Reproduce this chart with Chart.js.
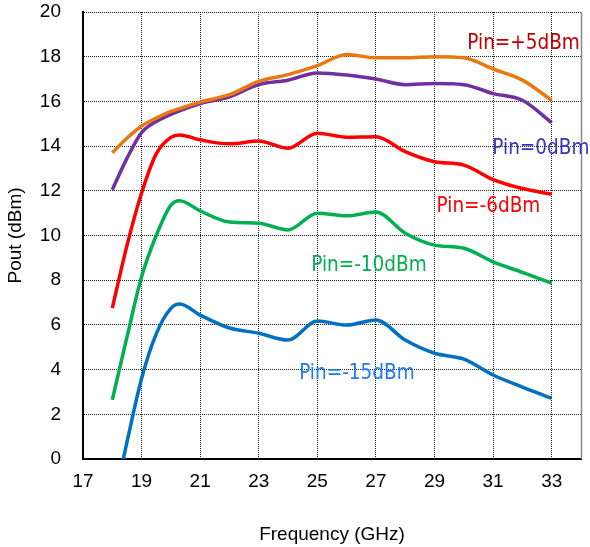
<!DOCTYPE html>
<html>
<head>
<meta charset="utf-8">
<script src="https://cdn.jsdelivr.net/npm/chart.js@4.4.1/dist/chart.umd.min.js"></script>
<style>
html,body{margin:0;padding:0;background:#fff;}
#wrap{width:590px;height:547px;}
</style>
</head>
<body>
<div id="wrap"><canvas id="c" width="590" height="547"></canvas></div>
<script>
// ---- data ----
const freq     = [18, 18.5, 19, 19.5, 20, 20.3, 21, 22, 23, 24, 25, 26, 27, 28, 29, 30, 31, 32, 33];
const pinP5    = [13.7, 14.35, 14.9, 15.25, 15.55, 15.68, 15.97, 16.3, 16.9, 17.2, 17.6, 18.1, 17.95, 17.95, 18.0, 17.95, 17.45, 16.95, 16.05];
const pin0     = [12.05, 13.45, 14.6, 15.1, 15.42, 15.58, 15.9, 16.2, 16.75, 16.95, 17.27, 17.18, 17.0, 16.75, 16.8, 16.75, 16.35, 16.05, 15.05];
const pinM6    = [6.75, 9.55, 11.9, 13.65, 14.39, 14.5, 14.28, 14.1, 14.23, 13.9, 14.58, 14.4, 14.42, 13.75, 13.3, 13.15, 12.5, 12.1, 11.85];
const pinM10   = [2.65, 5.45, 8.15, 10.0, 11.36, 11.56, 11.1, 10.6, 10.55, 10.25, 11.0, 10.88, 11.05, 10.1, 9.57, 9.43, 8.82, 8.35, 7.87];
const pinM15   = [-2.3, 0.75, 3.6, 5.6, 6.74, 6.93, 6.44, 5.86, 5.63, 5.32, 6.17, 5.99, 6.22, 5.32, 4.73, 4.47, 3.76, 3.22, 2.72];
const xTicks   = [17, 19, 21, 23, 25, 27, 29, 31, 33];
const yTicks   = [0, 2, 4, 6, 8, 10, 12, 14, 16, 18, 20];
const seriesNames = ['Pin=+5dBm', 'Pin=0dBm', 'Pin=-6dBm', 'Pin=-10dBm', 'Pin=-15dBm'];
const labelFreq = [32.04, 32.63, 30.84, 26.76, 26.35];
const labelPout = [18.6, 13.9, 11.3, 8.66, 3.8];

// ---- styles ----
const lineColors  = ['#E8780F', '#7030A0', '#FF0000', '#00B050', '#0070C0'];
const labelColors = ['#C00000', '#3535C0', '#FF0000', '#00B050', '#1E7BF5'];
const allSeries = [pinP5, pin0, pinM6, pinM10, pinM15];

const datasets = allSeries.map((vals, i) => ({
  label: seriesNames[i],
  data: freq.map((f, k) => ({x: f, y: vals[k]})),
  borderColor: lineColors[i],
  backgroundColor: lineColors[i],
  borderWidth: 3.5,
  pointRadius: 0,
  cubicInterpolationMode: 'monotone',
  fill: false
}));

const annotate = {
  id: 'annotate',
  afterDatasetsDraw(chart) {
    const {ctx, chartArea, scales} = chart;
    ctx.save();
    ctx.strokeStyle = '#8a8a8a';
    ctx.lineWidth = 1.5;
    ctx.beginPath();
    ctx.moveTo(chartArea.right + 0.5, chartArea.top);
    ctx.lineTo(chartArea.right + 0.5, chartArea.bottom);
    ctx.stroke();
    ctx.font = '20.5px "DejaVu Sans Condensed", "DejaVu Sans", sans-serif';
    ctx.textAlign = 'center';
    ctx.textBaseline = 'middle';
    seriesNames.forEach((name, i) => {
      ctx.fillStyle = labelColors[i];
      ctx.fillText(name, scales.x.getPixelForValue(labelFreq[i]), scales.y.getPixelForValue(labelPout[i]));
    });
    ctx.restore();
  }
};

const tickFont = {family: '"Liberation Sans", Arial, sans-serif', size: 19};

new Chart(document.getElementById('c'), {
  type: 'line',
  data: {datasets},
  options: {
    responsive: false,
    animation: false,
    events: [],
    layout: {padding: {top: 12, right: 9, left: 0, bottom: 0}},
    plugins: {legend: {display: false}, tooltip: {enabled: false}},
    scales: {
      x: {
        type: 'linear',
        min: 17, max: 34,
        afterBuildTicks: s => { s.ticks = xTicks.map(v => ({value: v})); },
        afterFit: s => { s.height = 88; s.paddingLeft = 0; s.paddingRight = 0; },
        grid: {color: '#222', lineWidth: 1, drawTicks: false},
        border: {display: true, color: '#000', width: 2, dash: [1, 1]},
        ticks: {color: '#000', font: tickFont, padding: 11, maxRotation: 0, autoSkip: false},
        title: {display: true, text: 'Frequency (GHz)', color: '#000', font: tickFont, padding: {top: 0, bottom: 1}}
      },
      y: {
        type: 'linear',
        min: 0, max: 20,
        afterBuildTicks: s => { s.ticks = yTicks.map(v => ({value: v})); },
        afterFit: s => { s.width = 83; s.paddingTop = 0; s.paddingBottom = 0; },
        grid: {color: '#222', lineWidth: 1, drawTicks: false},
        border: {display: true, color: '#000', width: 2, dash: [1, 1]},
        ticks: {color: '#000', font: tickFont, padding: 22, autoSkip: false},
        title: {display: true, text: 'Pout (dBm)', color: '#000', font: tickFont, padding: {top: 4, bottom: 0}}
      }
    }
  },
  plugins: [annotate]
});
</script>
</body>
</html>
